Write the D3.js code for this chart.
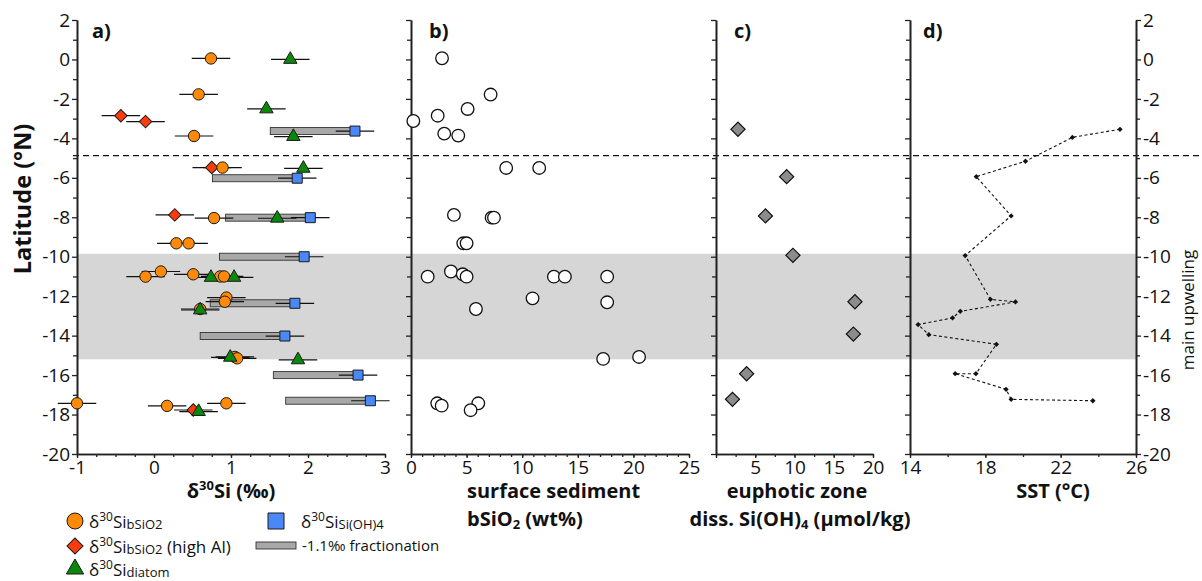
<!DOCTYPE html>
<html>
<head>
<meta charset="utf-8">
<script src="https://cdn.jsdelivr.net/npm/d3@7"></script>
<style>
  body { margin: 0; background: #fff; }
  svg text { font-family: "Open Sans", sans-serif; fill: #111; }
</style>
</head>
<body>
<svg id="fig" width="1202" height="581"></svg>
<script>
// ---- a) δ30Si of biogenic silica, diatoms and dissolved silicic acid ----
const bsio2D30 = [0.74, 0.58, 0.52, 0.89, 0.78, 0.29, 0.45, -0.11, 0.09, 0.51, 0.86, 0.91, 0.94, 0.92, 0.60, 1.05, 1.08, -1.00, 0.17, 0.94];
const bsio2Lat = [0.05, -1.77, -3.88, -5.48, -8.04, -9.32, -9.32, -11.01, -10.75, -10.89, -11.0, -11.0, -12.07, -12.28, -12.65, -15.08, -15.15, -17.43, -17.56, -17.43];

const highAlD30 = [-0.43, -0.11, 0.75, 0.27, 0.51];
const highAlLat = [-2.85, -3.15, -5.48, -7.88, -17.77];

const diatomD30 = [1.77, 1.46, 1.81, 1.94, 1.60, 0.74, 1.04, 0.60, 0.99, 1.87, 0.58];
const diatomLat = [0.0, -2.51, -3.91, -5.52, -8.05, -11.05, -11.05, -12.70, -15.10, -15.23, -17.85];

const siohD30 = [2.61, 1.86, 2.03, 1.95, 1.83, 1.70, 2.65, 2.81];
const siohLat = [-3.63, -6.02, -8.02, -10.0, -12.36, -14.02, -16.0, -17.30];

const fractionation = -1.1;   // ‰, applied to the dissolved Si(OH)4 values
const d30Err = 0.25;          // ‰, analytical uncertainty (± bar)

// ---- b) surface sediment bSiO2 ----
const sedLat   = [0.06, -1.78, -2.51, -2.85, -3.12, -3.76, -3.86, -5.5, -5.5, -7.88, -8.02, -8.02, -9.32, -9.32, -11.01, -10.75, -10.89, -11.01, -11.01, -11.01, -11.01, -12.11, -12.31, -12.65, -15.18, -15.08, -17.43, -17.55, -17.43, -17.78];
const sedBsio2 = [2.79, 7.16, 5.09, 2.40, 0.21, 2.99, 4.25, 8.56, 11.53, 3.86, 7.25, 7.46, 4.70, 5.00, 1.50, 3.59, 4.65, 5.00, 12.85, 13.84, 17.64, 10.93, 17.64, 5.84, 17.28, 20.51, 2.36, 2.76, 6.05, 5.36];

// ---- c) euphotic zone dissolved Si(OH)4 ----
const euphLat = [-3.54, -5.94, -7.93, -9.93, -12.28, -13.92, -15.93, -17.23];
const euphSi  = [2.8, 9.0, 6.3, 9.8, 17.7, 17.5, 3.9, 2.1];

// ---- d) sea surface temperature ----
const sstLat = [-3.54, -3.95, -5.16, -5.94, -7.93, -9.94, -12.16, -12.29, -12.77, -13.10, -13.44, -13.95, -14.44, -15.93, -15.93, -16.72, -17.23, -17.30];
const sstVal = [25.15, 22.62, 20.13, 17.52, 19.37, 16.93, 18.27, 19.60, 16.67, 16.26, 14.43, 15.00, 18.59, 17.50, 16.40, 19.10, 19.37, 23.71];

// ---- shared latitude features ----
const upwellingLat = [-9.85, -15.2];
const boundaryLat = -4.88;

// tick values
const latMajor = d3.range(-20, 3, 2);
const latMinor = d3.range(-19, 2, 2);
const aTicks = [-1, 0, 1, 2, 3];
const bTicks = [0, 5, 10, 15, 20, 25];
const cTicks = [5, 10, 15, 20];
const dTicks = [14, 18, 22, 26];

const svg = d3.select("#fig");

const y  = d3.scaleLinear().domain([-20, 2]).range([454, 20]);
const xa = d3.scaleLinear().domain([-1, 3]).range([77, 385]);
const xb = d3.scaleLinear().domain([0, 25]).range([411, 689]);
const xc = d3.scaleLinear().domain([0, 20]).range([716, 873]);
const xd = d3.scaleLinear().domain([14, 26]).range([910, 1136]);

// upwelling band and boundary line
svg.append("rect")
  .attr("x", xa(-1)).attr("width", xd(26) - xa(-1))
  .attr("y", y(upwellingLat[0])).attr("height", y(upwellingLat[1]) - y(upwellingLat[0]))
  .attr("fill", "#d6d6d6");

svg.append("line")
  .attr("x1", xa(-1) - 4).attr("x2", 1202)
  .attr("y1", y(boundaryLat)).attr("y2", y(boundaryLat))
  .attr("stroke", "#111").attr("stroke-width", 1.3).attr("stroke-dasharray", "6,4");

// ---- axes ----
const fmt = d => String(d);
const tickFs = 19;
function styleAxis(g) {
  g.attr("font-family", null).attr("font-size", null);
  g.selectAll("path.domain").attr("stroke", "#222").attr("stroke-width", 1.6);
  g.selectAll(".tick line").attr("stroke", "#222").attr("stroke-width", 1.3);
  g.selectAll(".tick text").style("font-size", tickFs + "px");
}

function latAxis(x0, right, labels) {
  const mk = right ? d3.axisRight : d3.axisLeft;
  styleAxis(svg.append("g").attr("transform", `translate(${x0},0)`)
    .call(mk(y).tickValues(latMinor).tickSize(4).tickSizeOuter(0).tickFormat("")));
  styleAxis(svg.append("g").attr("transform", `translate(${x0},0)`)
    .call(mk(y).tickValues(latMajor).tickSize(5).tickSizeOuter(0).tickPadding(2)
      .tickFormat(labels ? fmt : "")));
}

function xAxis(scale, minor, major, labelVals) {
  styleAxis(svg.append("g").attr("transform", `translate(0,${y(-20)})`)
    .call(d3.axisBottom(scale).tickValues(minor).tickSize(3).tickSizeOuter(0).tickFormat("")));
  styleAxis(svg.append("g").attr("transform", `translate(0,${y(-20)})`)
    .call(d3.axisBottom(scale).tickValues(major).tickSize(4).tickSizeOuter(0).tickPadding(2)
      .tickFormat(d => labelVals.includes(d) ? fmt(d) : "")));
}

latAxis(xa(-1), false, true);
latAxis(xb(0), false, false);
latAxis(xc(0), false, false);
latAxis(xd(14), false, false);
latAxis(xd(26), true, true);

xAxis(xa, d3.range(-1, 3.01, 0.25), aTicks, aTicks);
xAxis(xb, d3.range(0, 26, 1), bTicks, bTicks);
xAxis(xc, d3.range(0, 20.1, 2.5), [0, 5, 10, 15, 20], cTicks);
xAxis(xd, d3.range(14, 27, 2), dTicks, dTicks);

// ---- panel a ----
const pa = svg.append("g");
const outline = "#1a1a1a";

// fractionation bars
pa.selectAll("rect.frac").data(siohD30.map((v, i) => ({v, lat: siohLat[i]})))
  .join("rect").attr("class", "frac")
  .attr("x", d => xa(d.v + fractionation)).attr("width", d => xa(d.v) - xa(d.v + fractionation))
  .attr("y", d => y(d.lat) - 3.5).attr("height", 7)
  .attr("fill", "#a8a8a8").attr("stroke", "#333").attr("stroke-width", 0.9);

const allA = [
  ...bsio2D30.map((v, i) => ({v, lat: bsio2Lat[i]})),
  ...highAlD30.map((v, i) => ({v, lat: highAlLat[i]})),
  ...diatomD30.map((v, i) => ({v, lat: diatomLat[i]})),
  ...siohD30.map((v, i) => ({v, lat: siohLat[i]}))
];
pa.selectAll("line.err").data(allA).join("line").attr("class", "err")
  .attr("x1", d => xa(d.v - d30Err)).attr("x2", d => xa(d.v + d30Err))
  .attr("y1", d => y(d.lat)).attr("y2", d => y(d.lat))
  .attr("stroke", "#111").attr("stroke-width", 1.2);

const diamond = s => d3.symbol().type(d3.symbolSquare).size(s)();
const tri = s => d3.symbol().type(d3.symbolTriangle).size(s)();
const sq = s => d3.symbol().type(d3.symbolSquare).size(s)();

const cOrange = "#ff8a0a", cRed = "#fa3c0c", cGreen = "#0b870b", cBlue = "#4a88f7";

pa.selectAll("path.hal").data(highAlD30.map((v, i) => ({v, lat: highAlLat[i]})))
  .join("path").attr("class", "hal").attr("d", diamond(78))
  .attr("transform", d => `translate(${xa(d.v)},${y(d.lat)}) rotate(45)`)
  .attr("fill", cRed).attr("stroke", outline).attr("stroke-width", 1);

pa.selectAll("circle.bs").data(bsio2D30.map((v, i) => ({v, lat: bsio2Lat[i]})))
  .join("circle").attr("class", "bs")
  .attr("cx", d => xa(d.v)).attr("cy", d => y(d.lat)).attr("r", 5.7)
  .attr("fill", cOrange).attr("stroke", outline).attr("stroke-width", 1);

pa.selectAll("path.dia").data(diatomD30.map((v, i) => ({v, lat: diatomLat[i]})))
  .join("path").attr("class", "dia").attr("d", tri(78))
  .attr("transform", d => `translate(${xa(d.v)},${y(d.lat)})`)
  .attr("fill", cGreen).attr("stroke", outline).attr("stroke-width", 1);

pa.selectAll("path.sioh").data(siohD30.map((v, i) => ({v, lat: siohLat[i]})))
  .join("path").attr("class", "sioh").attr("d", sq(100))
  .attr("transform", d => `translate(${xa(d.v)},${y(d.lat)})`)
  .attr("fill", cBlue).attr("stroke", outline).attr("stroke-width", 1);

// ---- panel b ----
svg.append("g").selectAll("circle").data(sedBsio2.map((v, i) => ({v, lat: sedLat[i]})))
  .join("circle")
  .attr("cx", d => xb(d.v)).attr("cy", d => y(d.lat)).attr("r", 6.3)
  .attr("fill", "#fff").attr("stroke", "#111").attr("stroke-width", 1.3);

// ---- panel c ----
svg.append("g").selectAll("path").data(euphSi.map((v, i) => ({v, lat: euphLat[i]})))
  .join("path").attr("d", diamond(100))
  .attr("transform", d => `translate(${xc(d.v)},${y(d.lat)}) rotate(45)`)
  .attr("fill", "#8c8c8c").attr("stroke", "#111").attr("stroke-width", 1.2);

// ---- panel d ----
const sstPts = sstVal.map((v, i) => ({v, lat: sstLat[i]}));
svg.append("path").datum(sstPts)
  .attr("d", d3.line().x(d => xd(d.v)).y(d => y(d.lat)))
  .attr("fill", "none").attr("stroke", "#111").attr("stroke-width", 1.1)
  .attr("stroke-dasharray", "3,2.5");
svg.append("g").selectAll("path").data(sstPts).join("path")
  .attr("d", diamond(14))
  .attr("transform", d => `translate(${xd(d.v)},${y(d.lat)}) rotate(45)`)
  .attr("fill", "#111");

// ---- panel letters ----
[["a)", 92], ["b)", 429], ["c)", 734], ["d)", 923]].forEach(([t, x]) => {
  svg.append("text").attr("x", x).attr("y", 38).text(t)
    .style("font-size", "20px").style("font-weight", "bold");
});

// ---- axis titles ----
function rich(sel, parts) {
  parts.forEach(p => {
    const ts = sel.append("tspan").text(p.t);
    if (p.fs) ts.style("font-size", p.fs + "px");
    if (p.dy) ts.attr("dy", p.dy);
  });
  return sel;
}
const title = (x, yy, anchor) => svg.append("text").attr("x", x).attr("y", yy)
  .attr("text-anchor", anchor).style("font-size", "20px").style("font-weight", "bold");

rich(title(231, 498, "middle"), [{t: "δ"}, {t: "30", fs: 13, dy: -8}, {t: "Si (‰)", dy: 8}]);
title(467, 498, "start").text("surface sediment");
rich(title(467, 526, "start"), [{t: "bSiO"}, {t: "2", fs: 13, dy: 3}, {t: " (wt%)", dy: -3}]);
title(797, 498, "middle").text("euphotic zone");
rich(title(800, 526, "middle"), [{t: "diss. Si(OH)"}, {t: "4", fs: 13, dy: 3}, {t: " (μmol/kg)", dy: -3}]);
title(1053, 498, "middle").text("SST (°C)");

svg.append("text").attr("transform", "translate(31,199) rotate(-90)")
  .attr("text-anchor", "middle").style("font-size", "23.5px").style("font-weight", "bold")
  .text("Latitude (°N)");

svg.append("text").attr("transform", "translate(1194,310) rotate(-90)")
  .attr("text-anchor", "middle").style("font-size", "17px")
  .text("main upwelling");

// ---- legend ----
const lg = svg.append("g");
const lfs = 17;
function legendText(x, yy, parts) {
  const t = lg.append("text").attr("x", x).attr("y", yy).style("font-size", lfs + "px");
  return rich(t, parts);
}
const d30 = [{t: "δ"}, {t: "30", fs: 12, dy: -7}];

lg.append("circle").attr("cx", 75).attr("cy", 521).attr("r", 8)
  .attr("fill", cOrange).attr("stroke", outline).attr("stroke-width", 1);
legendText(89, 528, [...d30, {t: "Si", dy: 7}, {t: "bSiO2", fs: 13, dy: 1}]);

lg.append("path").attr("d", diamond(130)).attr("transform", "translate(75,546) rotate(45)")
  .attr("fill", cRed).attr("stroke", outline).attr("stroke-width", 1);
legendText(89, 553, [...d30, {t: "Si", dy: 7}, {t: "bSiO2", fs: 13, dy: 1}, {t: " (high Al)", dy: -1}]);

lg.append("path").attr("d", tri(130)).attr("transform", "translate(75,569)")
  .attr("fill", cGreen).attr("stroke", outline).attr("stroke-width", 1);
legendText(89, 576, [...d30, {t: "Si", dy: 7}, {t: "diatom", fs: 13, dy: 1}]);

lg.append("path").attr("d", sq(256)).attr("transform", "translate(276,521)")
  .attr("fill", cBlue).attr("stroke", outline).attr("stroke-width", 1);
legendText(301, 528, [...d30, {t: "Si", dy: 7}, {t: "Si(OH)4", fs: 13, dy: 1}]);

lg.append("rect").attr("x", 256).attr("y", 542).attr("width", 40).attr("height", 7)
  .attr("fill", "#a8a8a8").attr("stroke", "#333").attr("stroke-width", 0.9);
legendText(302, 551, [{t: "-1.1‰ fractionation", fs: 15}]);
</script>
</body>
</html>
